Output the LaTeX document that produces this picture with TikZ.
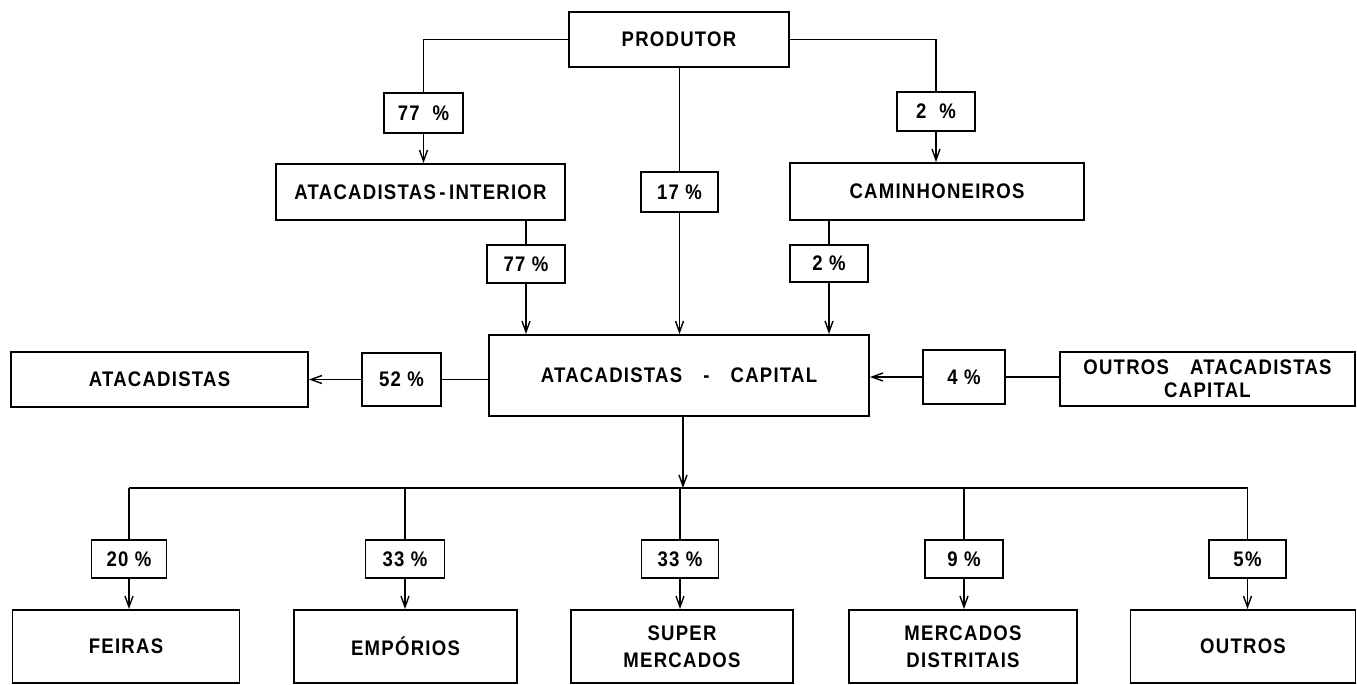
\documentclass[tikz,border=0pt]{standalone}
\usepackage{fontspec}
\setmainfont{Liberation Sans}[LetterSpace=6, FakeStretch=0.88]
\usetikzlibrary{arrows.meta}

\tikzset{
  box/.style={draw=black, line width=1.1pt, inner sep=0pt, align=center,
    font=\fontsize{12}{15.5}\selectfont\bfseries},
  pct/.style={box},
  flow/.style={line width=0.8pt, -{Straight Barb[length=2.2mm,width=1.6mm]}},
  link/.style={line width=0.8pt}
}

\begin{document}
\begin{tikzpicture}[x=0.02cm, y=-0.02cm]
\useasboundingbox (0,0) rectangle (1357,684);

% top level
\node [box, minimum width=4.4cm, minimum height=1.1cm] (prod) at (679,39.5) {PRODUTOR};
\node [pct, minimum width=1.58cm, minimum height=0.8cm] (p77a) at (423.5,113) {77\ \ \%};
\node [pct, minimum width=1.54cm, minimum height=0.8cm] (p17) at (679.5,192) {17 \%};
\node [pct, minimum width=1.56cm, minimum height=0.78cm] (p2a) at (936,111.5) {2\ \ \%};
\node [box, minimum width=5.78cm, minimum height=1.12cm] (int) at (420.5,192) {ATACADISTAS\,-\,INTERIOR};
\node [box, minimum width=5.88cm, minimum height=1.14cm] (cam) at (937,191.5) {CAMINHONEIROS};
\node [pct, minimum width=1.56cm, minimum height=0.76cm] (p77b) at (526,264) {77 \%};
\node [pct, minimum width=1.56cm, minimum height=0.74cm] (p2b) at (829,263.5) {2 \%};

% middle level
\node [box, minimum width=7.6cm, minimum height=1.62cm] (cap) at (679,375.5) {ATACADISTAS\quad -\quad CAPITAL};
\node [pct, minimum width=1.58cm, minimum height=1.06cm] (p52) at (401.5,379.5) {52 \%};
\node [box, minimum width=5.94cm, minimum height=1.1cm] (atac) at (159.5,379.5) {ATACADISTAS};
\node [pct, minimum width=1.64cm, minimum height=1.08cm] (p4) at (964,377) {4 \%};
\node [box, minimum width=5.9cm, minimum height=1.08cm,
  font=\fontsize{12}{13}\selectfont\bfseries] (outatac) at (1207.5,379) {OUTROS\quad ATACADISTAS\\CAPITAL};

% bottom level
\coordinate (bus) at (683,488);
\node [pct, minimum width=1.5cm, minimum height=0.76cm] (p20) at (129,559) {20 \%};
\node [pct, minimum width=1.58cm, minimum height=0.76cm] (p33a) at (405,559) {33 \%};
\node [pct, minimum width=1.54cm, minimum height=0.76cm] (p33b) at (680,559) {33 \%};
\node [pct, minimum width=1.56cm, minimum height=0.76cm] (p9) at (964,559) {9 \%};
\node [pct, minimum width=1.54cm, minimum height=0.76cm] (p5) at (1247.5,559) {5\%};
\node [box, minimum width=4.54cm, minimum height=1.46cm] (feiras) at (126,646.5) {FEIRAS};
\node [box, minimum width=4.46cm, minimum height=1.46cm] (emp) at (405.5,646.5) {EMPÓRIOS};
\node [box, minimum width=4.44cm, minimum height=1.46cm] (super) at (682,646.5) {SUPER\\MERCADOS};
\node [box, minimum width=4.56cm, minimum height=1.46cm] (merc) at (963,646.5) {MERCADOS\\DISTRITAIS};
\node [box, minimum width=4.5cm, minimum height=1.46cm] (outros) at (1243,646.5) {OUTROS};

% connectors, upper part
\draw [link] (prod.west) -| (p77a.north);
\draw [flow] (p77a.south) -- (p77a |- int.north);
\draw [link] (prod.east) -| (p2a.north);
\draw [flow] (p2a.south) -- (p2a |- cam.north);
\draw [link] (prod.south -| p17) -- (p17.north);
\draw [flow] (p17.south) -- (p17 |- cap.north);
\draw [link] (p77b |- int.south) -- (p77b.north);
\draw [flow] (p77b.south) -- (p77b |- cap.north);
\draw [link] (p2b |- cam.south) -- (p2b.north);
\draw [flow] (p2b.south) -- (p2b |- cap.north);

% connectors, sides
\draw [link] (cap.west |- p52) -- (p52.east);
\draw [flow] (p52.west) -- (atac.east |- p52);
\draw [link] (outatac.west |- p4) -- (p4.east);
\draw [flow] (p4.west) -- (cap.east |- p4);

% connectors, lower part
\draw [flow] (cap.south -| bus) -- (bus);
\draw [link] (p20 |- bus) -- (p5 |- bus);
\foreach \p/\q in {p20/feiras, p33a/emp, p33b/super, p9/merc, p5/outros} {
  \draw [link] (\p |- bus) -- (\p.north);
  \draw [flow] (\p.south) -- (\p |- \q.north);
}
\end{tikzpicture}
\end{document}
